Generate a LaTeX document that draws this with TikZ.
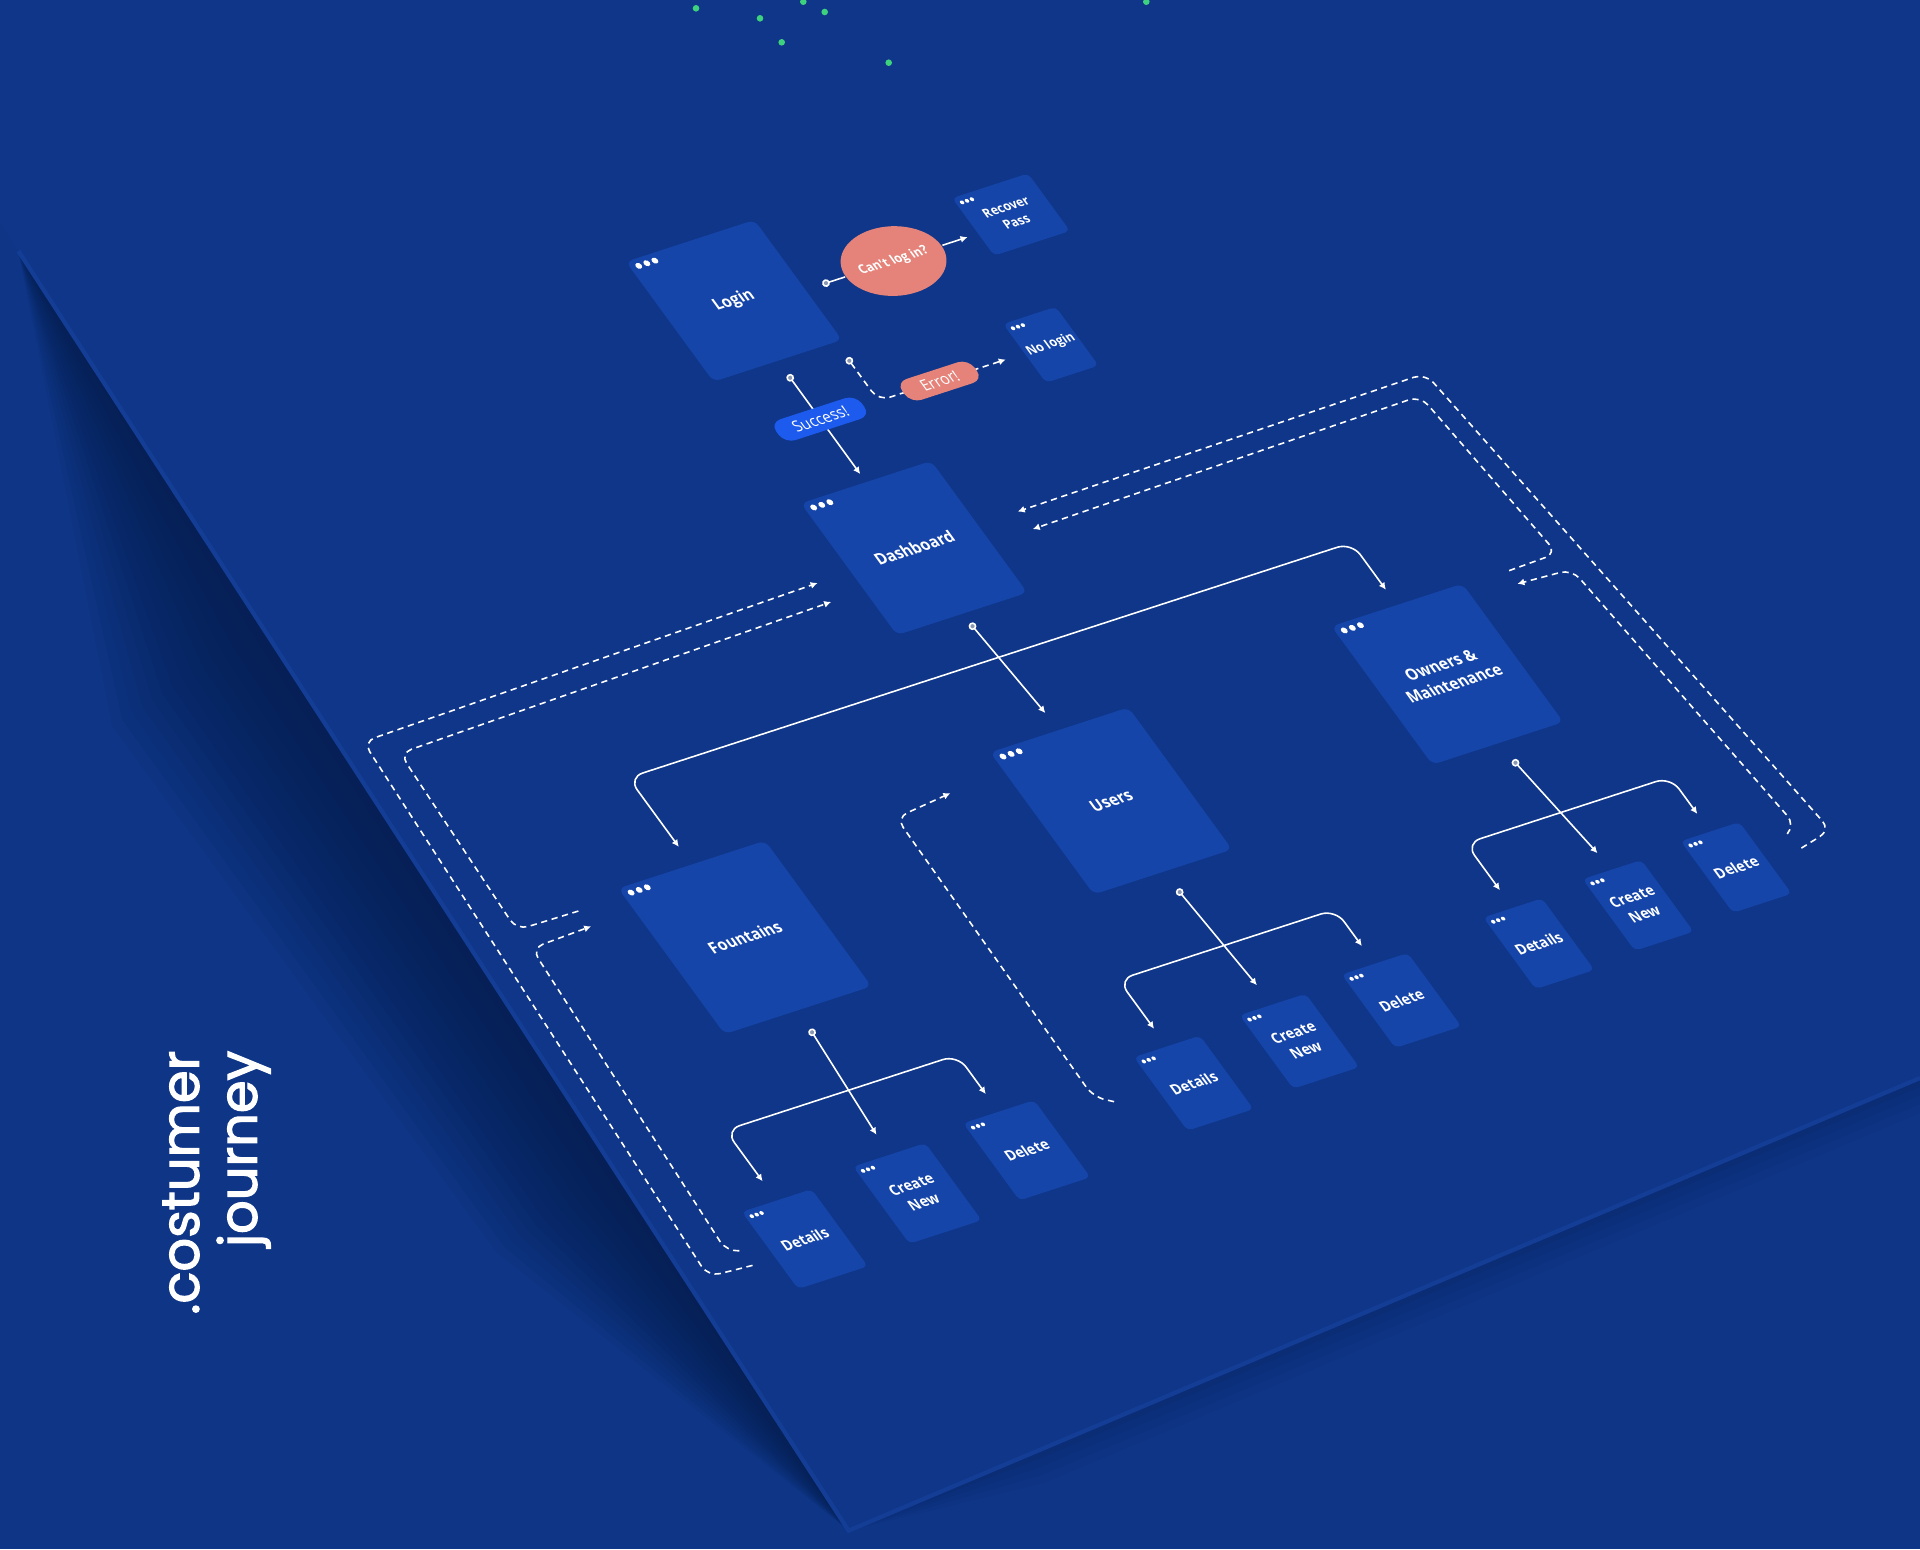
\documentclass[tikz,border=0pt]{standalone}
\usepackage{fontspec}
\setmainfont{Poppins}
\newfontfamily\labelfont{Open Sans}
\newfontfamily\titlefont{Poppins}[FakeBold=2.2]
\usepackage{tikz}
\usetikzlibrary{arrows.meta}
\usetikzlibrary{calc}
\usetikzlibrary{shapes.geometric}

\definecolor{bgblue}{HTML}{0E3586}
\definecolor{sheetblue}{HTML}{0F3688}
\definecolor{edgeblue}{HTML}{143D96}
\definecolor{shadowblue}{HTML}{061A45}
\definecolor{cardblue}{HTML}{1545A9}
\definecolor{salmon}{HTML}{E5837A}
\definecolor{okblue}{HTML}{1D5BEE}
\definecolor{ringgrey}{HTML}{8A97B3}
\definecolor{dotgreen}{HTML}{3ED27F}

% screen: name, x, y, width, height, label
\newcommand{\scrnode}[6]{%
  \node (#1) [card, minimum width=#4cm, minimum height=#5cm] at (#2,#3) {#6};
  \foreach \i in {0,1,2}
    \fill[white] ({#2-#4/2+0.065+\i*0.066},{#3+#5/2-0.055}) circle (0.023);
}
% small screen: [extra style] name, x, y, width, height, label
\newcommand{\subscrnode}[7][]{%
  \node (#2) [subcard, minimum width=#5cm, minimum height=#6cm, #1] at (#3,#4) {#7};
  \foreach \i in {0,1,2}
    \fill[white] ({#3-#5/2+0.045+\i*0.04},{#4+#6/2-0.05}) circle (0.015);
}

\begin{document}
\begin{tikzpicture}[
    card/.style={rectangle, rounded corners=0.07cm, fill=cardblue, text=white,
                 align=center, inner sep=0pt, font=\labelfont\bfseries\fontsize{3.3}{4.3}\selectfont},
    subcard/.style={card, rounded corners=0.05cm, font=\labelfont\bfseries\fontsize{3}{4}\selectfont},
    tiny/.style={font=\labelfont\bfseries\fontsize{2.6}{3.4}\selectfont},
    pill/.style={rectangle, rounded corners=0.11cm, text=white, inner sep=0pt,
                 minimum height=0.17cm, font=\labelfont\fontsize{3.2}{3.6}\selectfont},
    flow/.style={draw=white, line width=0.45pt},
    conn/.style={flow, arrows={Circle[fill=ringgrey, length=2.2pt]-Latex[length=2pt, width=2pt]}},
    fork/.style={flow, rounded corners=0.15cm, arrows={Latex[length=2pt, width=2pt]-Latex[length=2pt, width=2pt]}},
    back/.style={flow, dash pattern=on 1.8pt off 1.3pt, rounded corners=0.12cm, -{Latex[length=2pt, width=2pt]}}
  ]
  \useasboundingbox (0,0) rectangle (19.2,-15.49);
  \clip (0,0) rectangle (19.2,-15.49);
  \fill[bgblue] (0,0) rectangle (19.2,-15.49);

  % the sheet and its shadow
  \fill[sheetblue] (-1.444,0) -- (8.486,-15.306) -- (19.2,-10.78) -- (19.2,0) -- cycle;
  \begin{scope}[shift={(0.184,-2.51)}, rotate=-57.02]
    \foreach \w in {0.12,0.24,...,1.9}
      \fill[shadowblue, opacity=0.07] (0,0) -- (4.5,-\w) -- (11,-\w*0.8) -- (15.25,0) -- cycle;
  \end{scope}
  \begin{scope}[shift={(8.486,-15.306)}, rotate=22.9]
    \foreach \w in {0.08,0.16,...,0.4}
      \fill[shadowblue, opacity=0.06] (0,0) -- (2,-\w) -- (11.7,-\w) -- (11.7,0) -- cycle;
  \end{scope}
  \draw[edgeblue, line width=1.2pt] (0.184,-2.51) -- (8.486,-15.306) -- (19.2,-10.78);

  \begin{scope}[cm={1.2245,0.398,-0.8939,1.2245,(0,0)}, transform shape]
    % screens
    \scrnode{login}{3.395}{-3.56}{1.05}{0.98}{Login}
    \scrnode{dash}{3.393}{-5.578}{1.065}{1.076}{Dashboard}
    \scrnode{fount}{0.4}{-7.785}{1.2}{1.19}{Fountains}
    \scrnode{users}{3.475}{-7.67}{1.13}{1.16}{Users}
    \scrnode{owners}{6.305}{-7.555}{1.07}{1.13}{Owners \&\\Maintenance}
    \subscrnode[tiny]{recover}{5.64}{-3.585}{0.62}{0.47}{Recover\\Pass}
    \subscrnode[tiny]{nologin}{5.275}{-4.53}{0.43}{0.48}{No login}
    \subscrnode{fdetails}{-0.658}{-9.905}{0.57}{0.63}{Details}
    \subscrnode{fcreate}{0.305}{-9.845}{0.59}{0.63}{Create\\New}
    \subscrnode{fdelete}{1.235}{-9.795}{0.58}{0.63}{Delete}
    \subscrnode{udetails}{2.66}{-9.71}{0.54}{0.6}{Details}
    \subscrnode{ucreate}{3.56}{-9.66}{0.54}{0.6}{Create\\New}
    \subscrnode{udelete}{4.43}{-9.61}{0.54}{0.6}{Delete}
    \subscrnode{odetails}{5.61}{-9.53}{0.48}{0.585}{Details}
    \subscrnode{ocreate}{6.45}{-9.49}{0.48}{0.585}{Create\\New}
    \subscrnode{odelete}{7.28}{-9.45}{0.48}{0.585}{Delete}

    % login outcomes
    \node (cant) [ellipse, fill=salmon, minimum width=0.71cm, minimum height=0.51cm, inner sep=0pt,
                  text=white, tiny] at (4.64,-3.64) {Can't log in?};
    \draw[flow, arrows={Circle[fill=ringgrey, length=2.2pt]-}] ($(login.east |- cant)+(0.13,0)$) -- (cant);
    \draw[flow, -{Latex[length=2pt, width=2pt]}] (cant) -- ($(recover.west |- cant)+(-0.08,0)$);
    \draw[conn, shorten <=0.16cm, shorten >=0.09cm] (login.south)
      -- node[pill, fill=okblue, minimum width=0.7cm, pos=0.48] (success) {Success!} (dash.north);
    \draw[conn, dash pattern=on 1.8pt off 1.3pt, rounded corners=0.12cm, shorten >=0.19cm]
      ($(login.south east)+(-0.06,-0.12)$) |- node[pill, fill=salmon, minimum width=0.59cm, pos=0.71] (error) {Error!} (nologin.west);

    % dashboard to sections
    \draw[conn, shorten <=0.11cm, shorten >=0.21cm] (dash.south) -- (users.north);
    \coordinate (topfork) at (3.4,-6.48);
    \draw[fork, shorten <=0.21cm, shorten >=0.18cm] (fount.north) |- (topfork) -| (owners.north);

    % section actions
    \draw[conn, shorten <=0.21cm, shorten >=0.23cm] (fount.south) -- (fcreate.north);
    \coordinate (ffork) at (0.3,-9.015);
    \draw[fork, shorten <=0.23cm, shorten >=0.21cm] (fdetails.north) |- (ffork) -| (fdelete.north);
    \draw[conn, shorten <=0.21cm, shorten >=0.24cm] (users.south) -- (ucreate.north);
    \coordinate (ufork) at (3.5,-8.865);
    \draw[fork, shorten <=0.21cm, shorten >=0.21cm] (udetails.north) |- (ufork) -| (udelete.north);
    \draw[conn, shorten <=0.21cm, shorten >=0.21cm] (owners.south) -- (ocreate.north);
    \coordinate (ofork) at (6.4,-8.71);
    \draw[fork, shorten <=0.21cm, shorten >=0.21cm] (odetails.north) |- (ofork) -| (odelete.north);

    % dashed ways back
    \draw[back] ($(fdetails.west)+(-0.18,-0.06)$) -- (-1.477,-9.945) -- (-1.176,-5.675) -- ($(dash.west)+(-0.266,-0.023)$);
    \draw[back] ($(fount.north west)+(-0.365,-0.07)$) -- (-1.071,-7.247) -- (-0.99,-5.83) -- ($(dash.west)+(-0.268,-0.177)$);
    \draw[back] ($(fdetails.west)+(-0.196,0.065)$) -- (-1.235,-9.82) -- (-1.06,-7.40) -- ($(fount.north west)+(-0.354,-0.198)$);
    \draw[back] ($(udetails.west)+(-0.338,0.05)$) -- (1.93,-9.585) -- (1.976,-7.32) -- ($(users.north west)+(-0.452,-0.19)$);
    \draw[back] ($(odelete.east)+(0.275,-0.011)$) -- (8.082,-9.405) -- (7.608,-5.522) -- ($(dash.east)+(0.319,0.019)$);
    \draw[back] ($(owners.north east)+(0.363,-0.02)$) -- (7.61,-6.992) -- (7.466,-5.66) -- ($(dash.east)+(0.334,-0.129)$);
    \draw[back] ($(odelete.east)+(0.259,0.117)$) -- (7.875,-9.296) -- (7.631,-7.13) -- ($(owners.north east)+(0.354,-0.125)$);
  \end{scope}

  % title
  \node (title) [rotate=90, anchor=north east, align=right, inner sep=0pt, text=white,
                 font=\titlefont\fontsize{15}{16.5}\selectfont] at (1.62,-10.5) {.costumer\\journey};
  % green dots at the top
  \foreach \x/\y in {6.96/-0.083, 7.6/-0.183, 8.033/-0.017, 8.247/-0.12, 7.817/-0.423, 8.887/-0.627, 11.463/-0.017}
    \fill[dotgreen] (\x,\y) circle (0.033);
\end{tikzpicture}
\end{document}
